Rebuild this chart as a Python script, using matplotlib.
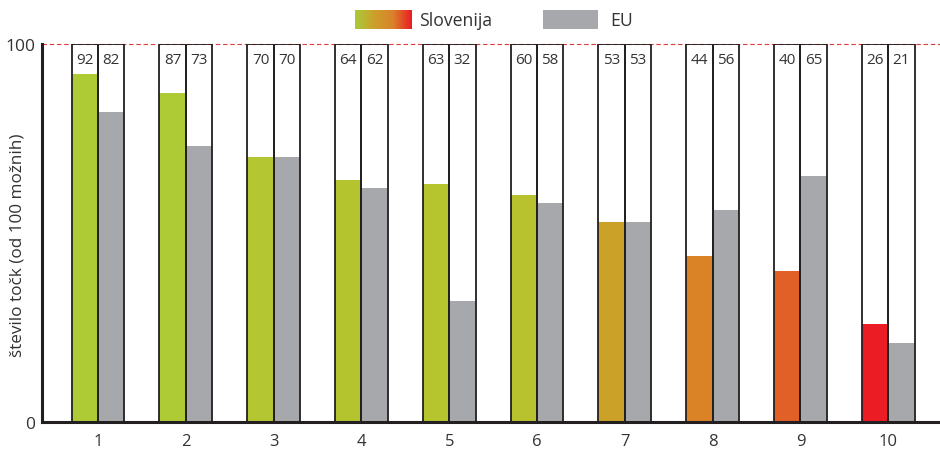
import numpy as np
import matplotlib
matplotlib.use("Agg")
import matplotlib.pyplot as plt
from matplotlib.colors import LinearSegmentedColormap

categories = ["1", "2", "3", "4", "5", "6", "7", "8", "9", "10"]
slovenija = [92, 87, 70, 64, 63, 60, 53, 44, 40, 26]
eu = [82, 73, 70, 62, 32, 58, 53, 56, 65, 21]
slo_colors = ["#aecb36", "#aecb36", "#b4c732", "#b4c42f", "#b6c42e", "#b8c22e",
              "#cba227", "#d98226", "#e06027", "#ec1c24"]
eu_color = "#a7a8ab"
edge = "#231f20"

plt.rcParams['font.family'] = ['Open Sans', 'DejaVu Sans']

fig = plt.figure(figsize=(9.4, 4.52), dpi=100)
ax = fig.add_axes([42/940, 29/452, 898/940, 378/452])

x = np.arange(1, len(categories) + 1)
w = 0.30
ax.bar(x - w/2, slovenija, width=w, color=slo_colors, zorder=2, linewidth=0)
ax.bar(x + w/2, eu, width=w, color=eu_color, zorder=2, linewidth=0)
ax.bar(x - w/2, [100]*len(x), width=w, facecolor='none', edgecolor=edge, linewidth=1.3, zorder=3)
ax.bar(x + w/2, [100]*len(x), width=w, facecolor='none', edgecolor=edge, linewidth=1.3, zorder=3)

for xi, s, e in zip(x, slovenija, eu):
    ax.text(xi - w/2, 96, str(s), ha='center', va='center', fontsize=11, color='#333333', zorder=4)
    ax.text(xi + w/2, 96, str(e), ha='center', va='center', fontsize=11, color='#333333', zorder=4)

ax.axhline(100, color='#dd3a3e', linestyle=(0, (4, 2.5)), linewidth=0.8, zorder=1, clip_on=False)

ax.set_xlim(0.362, 10.59)
ax.set_ylim(0, 100)
ax.set_xticks(x)
ax.set_xticklabels(categories, fontsize=12, color='#333333')
ax.set_yticks([0, 100])
ax.set_yticklabels(["0", "100"], fontsize=12.5, color='#333333')
ax.tick_params(axis='both', length=0, pad=8)
ax.tick_params(axis='y', pad=5)
for s in ['top', 'right']:
    ax.spines[s].set_visible(False)
for s in ['left', 'bottom']:
    ax.spines[s].set_color(edge)
    ax.spines[s].set_linewidth(2.2)
ax.set_ylabel("število točk (od 100 možnih)", fontsize=12.3, color='#333333')
ax.yaxis.set_label_coords(-24/898, 0.47)
ax.yaxis.label.set_va('center')

# legend
cmap = LinearSegmentedColormap.from_list("slo", ["#a9cb3a", "#cda02a", "#d9822a", "#ec1c24"])
lax = fig.add_axes([355/940, 1 - 30/452, 56/940, 19/452])
lax.imshow(np.linspace(0, 1, 256)[None, :], aspect='auto', cmap=cmap)
lax.axis('off')
fig.text(419/940, 1 - 20.5/452, "Slovenija", fontsize=12.7, color='#333333', va='center')
gax = fig.add_axes([543/940, 1 - 30/452, 55/940, 19/452])
gax.set_facecolor(eu_color)
gax.set_xticks([]); gax.set_yticks([])
for s in gax.spines.values():
    s.set_visible(False)
fig.text(610/940, 1 - 20.5/452, "EU", fontsize=12.7, color='#333333', va='center')

fig.savefig("out.png", dpi=100)
